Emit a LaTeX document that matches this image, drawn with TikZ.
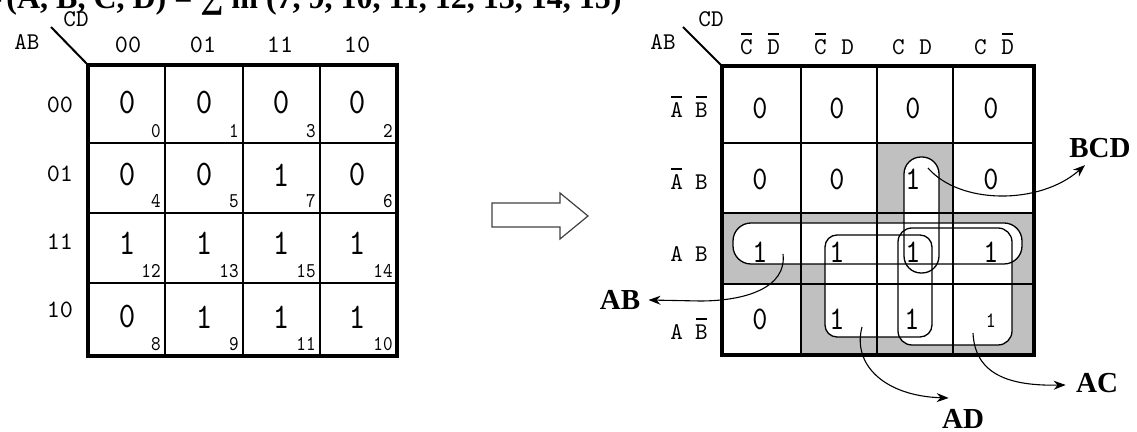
\documentclass[tikz,border=0pt]{standalone}
\usepackage{fontspec}
\setmainfont{Liberation Serif}
\newfontfamily\monofont[Extension=.otf]{lmmono10-regular}
\newfontfamily\digitfont[Extension=.otf,FakeStretch=0.87]{lmmono10-regular}
\usetikzlibrary{arrows.meta}
\definecolor{cellgray}{RGB}{192,192,192}
% letter with a bar over it (complemented variable)
\newcommand\nb[1]{\setbox0\hbox{#1}\rlap{\hbox to \wd0{\hss\rule[0.85em]{0.85\wd0}{0.65pt}\hss}}\box0\relax}
\newcommand\colsep{\hspace{7.4pt}}
\newcommand\rowsep{\hspace{6pt}}
\tikzset{
  gridline/.style={line width=0.75pt},
  frameline/.style={line width=1.8pt},
  diagline/.style={line width=1pt},
  groupline/.style={line width=0.65pt},
  conn/.style={line width=0.55pt,-{Stealth[length=6pt,width=4.5pt]}},
  titletext/.style={font=\bfseries\fontsize{16}{18}\selectfont,inner sep=0},
  term/.style={font=\bfseries\fontsize{14.5}{16}\selectfont,inner sep=0},
  axis/.style={font=\monofont\fontsize{12}{14}\selectfont,inner sep=0,anchor=base},
  hdr/.style={font=\monofont\fontsize{12.5}{14}\selectfont,inner sep=0,anchor=base},
  rhdr/.style={font=\monofont\fontsize{12}{14}\selectfont,inner sep=0,anchor=base},
  val/.style={font=\digitfont\fontsize{18}{20}\selectfont,inner sep=0},
  rval/.style={font=\digitfont\fontsize{16.5}{18}\selectfont,inner sep=0},
  idx/.style={font=\digitfont\fontsize{10.5}{12}\selectfont,inner sep=0,anchor=south east},
}
\begin{document}
\begin{tikzpicture}[x=0.5pt,y=-0.5pt]
\useasboundingbox (0,0) rectangle (1137,432);

% ---------- heading ----------
\begin{scope}
  \clip (0,0) rectangle (1137,432);
  \node[titletext,anchor=base west] (ttl) at (6,8.5) {(A, B, C, D) = ∑ m (7, 9, 10, 11, 12, 13, 14, 15)};
  \node[titletext,anchor=base east] (ttlF) at (ttl.base west) {F\ };
\end{scope}

% ---------- left map: binary labels and minterm numbers ----------
\foreach \x in {165,243,320} \draw[gridline] (\x,65) -- (\x,356);
\foreach \y in {143,213,283} \draw[gridline] (88,\y) -- (397,\y);
\draw[frameline] (88,65) rectangle (397,356);
\coordinate (lcorner) at (88,65);
\coordinate (ltip) at (51,27);
\draw[diagline] (ltip) -- (lcorner);
\node[axis] (lCD) at (76,27) {CD};
\node[axis] (lAB) at (27,50) {AB};
\foreach \t/\x [count=\k] in {00/128,01/203,11/280,10/357}
  \node[hdr] (lc\k) at (\x,53) {\t};
\foreach \t/\y [count=\k] in {00/113,01/182,11/250,10/318}
  \node[hdr] (lr\k) at (60,\y) {\t};

% row 00
\node[val] (v0) at (127,102.5) {0};  \node[idx] (m0) at (161,138) {0};
\node[val] (v1) at (204,102.5) {0};  \node[idx] (m1) at (239,138) {1};
\node[val] (v3) at (281,102.5) {0};  \node[idx] (m3) at (316,138) {3};
\node[val] (v2) at (357,102.5) {0};  \node[idx] (m2) at (393,138) {2};
% row 01
\node[val] (v4) at (127,175) {0};  \node[idx] (m4) at (161,208) {4};
\node[val] (v5) at (204,175) {0};  \node[idx] (m5) at (239,208) {5};
\node[val] (v7) at (281,175) {1};  \node[idx] (m7) at (316,208) {7};
\node[val] (v6) at (357,175) {0};  \node[idx] (m6) at (393,208) {6};
% row 11
\node[val] (v12) at (127,243) {1};  \node[idx] (m12) at (161,278) {12};
\node[val] (v13) at (204,243) {1};  \node[idx] (m13) at (239,278) {13};
\node[val] (v15) at (281,243) {1};  \node[idx] (m15) at (316,278) {15};
\node[val] (v14) at (357,243) {1};  \node[idx] (m14) at (393,278) {14};
% row 10
\node[val] (v8) at (127,317) {0};   \node[idx] (m8) at (161,351) {8};
\node[val] (v9) at (204,317) {1};   \node[idx] (m9) at (239,351) {9};
\node[val] (v11) at (281,317) {1};  \node[idx] (m11) at (316,351) {11};
\node[val] (v10) at (357,317) {1};  \node[idx] (m10) at (393,351) {10};

% ---------- hollow arrow between the maps ----------
\draw[line width=0.6pt,draw=black!75] (492,203) -- (560,203) -- (560,193) -- (588,216)
  -- (560,239) -- (560,227) -- (492,227) -- cycle;

% ---------- right map: shaded cells ----------
\fill[cellgray] (877,143) rectangle (953,213);
\fill[cellgray] (722,213) rectangle (1034,284);
\fill[cellgray] (801,284) rectangle (1034,355);

% group interiors
\fill[white,rounded corners=8.5pt] (904,157) rectangle (939,273);
\fill[white,rounded corners=9pt] (733,223) rectangle (1022,264);
\fill[white,rounded corners=6pt] (825,235) rectangle (932,337);
\fill[white,rounded corners=7pt] (898,228) rectangle (1012,345);

% grid
\foreach \x in {801,877,953} \draw[gridline] (\x,66) -- (\x,355);
\foreach \y in {143,213,284} \draw[gridline] (722,\y) -- (1034,\y);
\draw[frameline] (722,66) rectangle (1034,355);

% group outlines
\draw[groupline,rounded corners=8.5pt] (904,157) rectangle (939,273);
\draw[groupline,rounded corners=9pt] (733,223) rectangle (1022,264);
\draw[groupline,rounded corners=6pt] (825,235) rectangle (932,337);
\draw[groupline,rounded corners=7pt] (898,228) rectangle (1012,345);

% labels
\coordinate (rcorner) at (722,66);
\coordinate (rtip) at (683,27);
\draw[diagline] (rtip) -- (rcorner);
\node[axis] (rCD) at (711,27) {CD};
\node[axis] (rAB) at (663,50) {AB};
\foreach \t/\x [count=\k] in {{\nb{C}\colsep\nb{D}}/760,{\nb{C}\colsep D}/834,{C\colsep D}/912,{C\colsep\nb{D}}/994}
  \node[rhdr] (rc\k) at (\x,55) {\t};
\foreach \t/\y [count=\k] in {{\nb{A}\rowsep\nb{B}}/118,{\nb{A}\rowsep B}/190,{A\rowsep B}/262,{A\rowsep\nb{B}}/340}
  \node[rhdr] (rr\k) at (689,\y) {\t};

% cell values
\foreach \v/\x [count=\k] in {0/760,0/837,0/913,0/991}
  \node[rval] (a\k) at (\x,108) {\v};
\foreach \v/\x [count=\k] in {0/760,0/837,1/913,0/991}
  \node[rval] (b\k) at (\x,179) {\v};
\foreach \v/\x [count=\k] in {1/760,1/837,1/913,1/991}
  \node[rval] (c\k) at (\x,252) {\v};
\foreach \v/\x [count=\k] in {0/760,1/837,1/912}
  \node[rval] (d\k) at (\x,319) {\v};
\node[font=\digitfont\fontsize{11}{12}\selectfont,inner sep=0] (d4) at (991,321) {1};

% ---------- prime implicant terms ----------
\node[term] (tBCD) at (1100,148) {BCD};
\node[term] (tAB) at (620,300) {AB};
\node[term] (tAC) at (1097,383) {AC};
\node[term] (tAD) at (963,419) {AD};

\coordinate (bcdS) at (928,168);
\coordinate (abS) at (783,254);
\coordinate (adS) at (862,327);
\coordinate (acS) at (973,333);

\draw[conn] (bcdS) .. controls (960,205) and (1040,205) .. ([shift={(16,7)}]tBCD.south west);
\draw[conn] (abS) .. controls (787,288) and (745,301) .. (700,301) -- ([xshift=4pt]tAB.east);
\draw[conn] (adS) .. controls (852,365) and (885,396) .. ([shift={(7,-11)}]tAD.north west);
\draw[conn] (acS) .. controls (975,375) and (1010,386) .. ([shift={(-10,2)}]tAC.west);
\end{tikzpicture}
\end{document}
